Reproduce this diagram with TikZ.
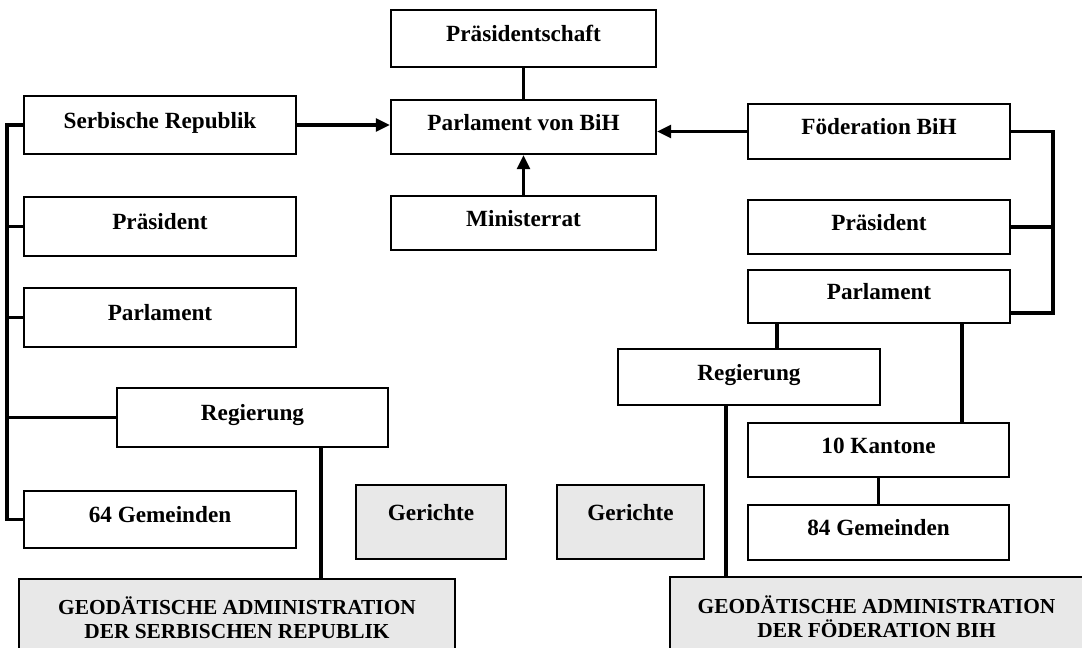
\documentclass[tikz,border=0pt]{standalone}
\usepackage{fontspec}
\setmainfont{Liberation Serif}
\usetikzlibrary{arrows.meta,calc}
\tikzset{
  box/.style={draw, line width=1.6pt, inner sep=0pt, fill=white,
    font=\fontsize{16.5}{19}\selectfont\bfseries,
    text height=11.4pt, text depth=6.5pt},
  graybox/.style={box, fill=black!9},
  geobox/.style={draw, line width=1.6pt, inner sep=0pt, fill=black!9,
    align=center, font=\fontsize{15.2}{17}\selectfont\bfseries},
  txt/.style={inner sep=0pt, font=\fontsize{16.5}{19}\selectfont\bfseries},
  conn/.style={line width=2.4pt},
  arr/.style={line width=2.4pt, -{Triangle[length=10pt,width=9pt]}}
}
\begin{document}
\begin{tikzpicture}[x=0.025cm, y=-0.025cm]
\useasboundingbox (0,0) rectangle (1082,647);
\clip (0,0) rectangle (1082,647);
% centre column
\node[box, minimum width=265*0.025cm, minimum height=57*0.025cm] (presch) at (523.5,38.5) {Präsidentschaft};
\node[box, minimum width=265*0.025cm, minimum height=54*0.025cm] (parl) at (523.5,127) {Parlament von BiH};
\node[box, minimum width=265*0.025cm, minimum height=54*0.025cm] (minr) at (523.5,223) {Ministerrat};
% left column
\node[box, minimum width=272*0.025cm, minimum height=58*0.025cm] (serb) at (160,125) {Serbische Republik};
\node[box, minimum width=272*0.025cm, minimum height=59*0.025cm] (presL) at (160,226.5) {Präsident};
\node[box, minimum width=272*0.025cm, minimum height=59*0.025cm] (parlL) at (160,317.5) {Parlament};
\node[box, minimum width=271*0.025cm, minimum height=59*0.025cm] (regL) at (252.5,417.5) {Regierung};
\node[box, minimum width=272*0.025cm, minimum height=57*0.025cm] (gemL) at (160,519.5) {64 Gemeinden};
\node[graybox, minimum width=150*0.025cm, minimum height=74*0.025cm] (gerL) at (431,522) {};
\node[txt, anchor=base] (gerLt) at ($(gerL.center)+(0,-2)$) {Gerichte};
\node[geobox, minimum width=436*0.025cm, minimum height=78*0.025cm] (geoL) at (237,618) {GEODÄTISCHE ADMINISTRATION\\DER SERBISCHEN REPUBLIK};
% right column
\node[box, minimum width=262*0.025cm, minimum height=55*0.025cm] (foed) at (879,131.5) {Föderation BiH};
\node[box, minimum width=262*0.025cm, minimum height=54*0.025cm] (presR) at (879,227) {Präsident};
\node[box, minimum width=262*0.025cm, minimum height=53*0.025cm] (parlR) at (879,296.5) {Parlament};
\node[box, minimum width=262*0.025cm, minimum height=56*0.025cm] (regR) at (749,377) {Regierung};
\node[box, minimum width=261*0.025cm, minimum height=54*0.025cm] (kant) at (878.5,450) {10 Kantone};
\node[box, minimum width=261*0.025cm, minimum height=55*0.025cm] (gemR) at (878.5,532.5) {84 Gemeinden};
\node[graybox, minimum width=147*0.025cm, minimum height=74*0.025cm] (gerR) at (630.5,522) {};
\node[txt, anchor=base] (gerRt) at ($(gerR.center)+(0,-2)$) {Gerichte};
\node[geobox, minimum width=413*0.025cm, minimum height=80*0.025cm] (geoR) at (876.5,617) {GEODÄTISCHE ADMINISTRATION\\DER FÖDERATION BIH};
% helper coordinates
\coordinate (busL) at (7,0);
\coordinate (busR) at (1053,0);
\coordinate (xa) at (777,0);
\coordinate (xb) at (962,0);
\coordinate (xc) at (726,0);
\coordinate (xd) at (321,0);
% centre connectors
\draw[conn] (presch.south) -- (parl.north);
\draw[arr] (minr.north) -- (parl.south);
\draw[arr] (serb.east) -- (serb.east -| parl.west);
\draw[arr] (foed.west) -- (foed.west -| parl.east);
% left bus
\draw[conn] (serb.west) -- (serb.west -| busL) -- (gemL.west -| busL) -- (gemL.west);
\draw[conn] (presL.west) -- (presL.west -| busL);
\draw[conn] (parlL.west) -- (parlL.west -| busL);
\draw[conn] (regL.west) -- (regL.west -| busL);
\draw[conn] (regL.south -| xd) -- (geoL.north -| xd);
% right bus
\coordinate (parlRs) at ($(parlR.south east)+(0,-11)$);
\draw[conn] (foed.east) -- (foed.east -| busR) -- (parlRs -| busR) -- (parlRs);
\draw[conn] (presR.east) -- (presR.east -| busR);
\draw[conn] (parlR.south -| xa) -- (regR.north -| xa);
\draw[conn] (parlR.south -| xb) -- (kant.north -| xb);
\draw[conn] (kant.south) -- (gemR.north);
\draw[conn] (regR.south -| xc) -- (geoR.north -| xc);
\end{tikzpicture}
\end{document}
